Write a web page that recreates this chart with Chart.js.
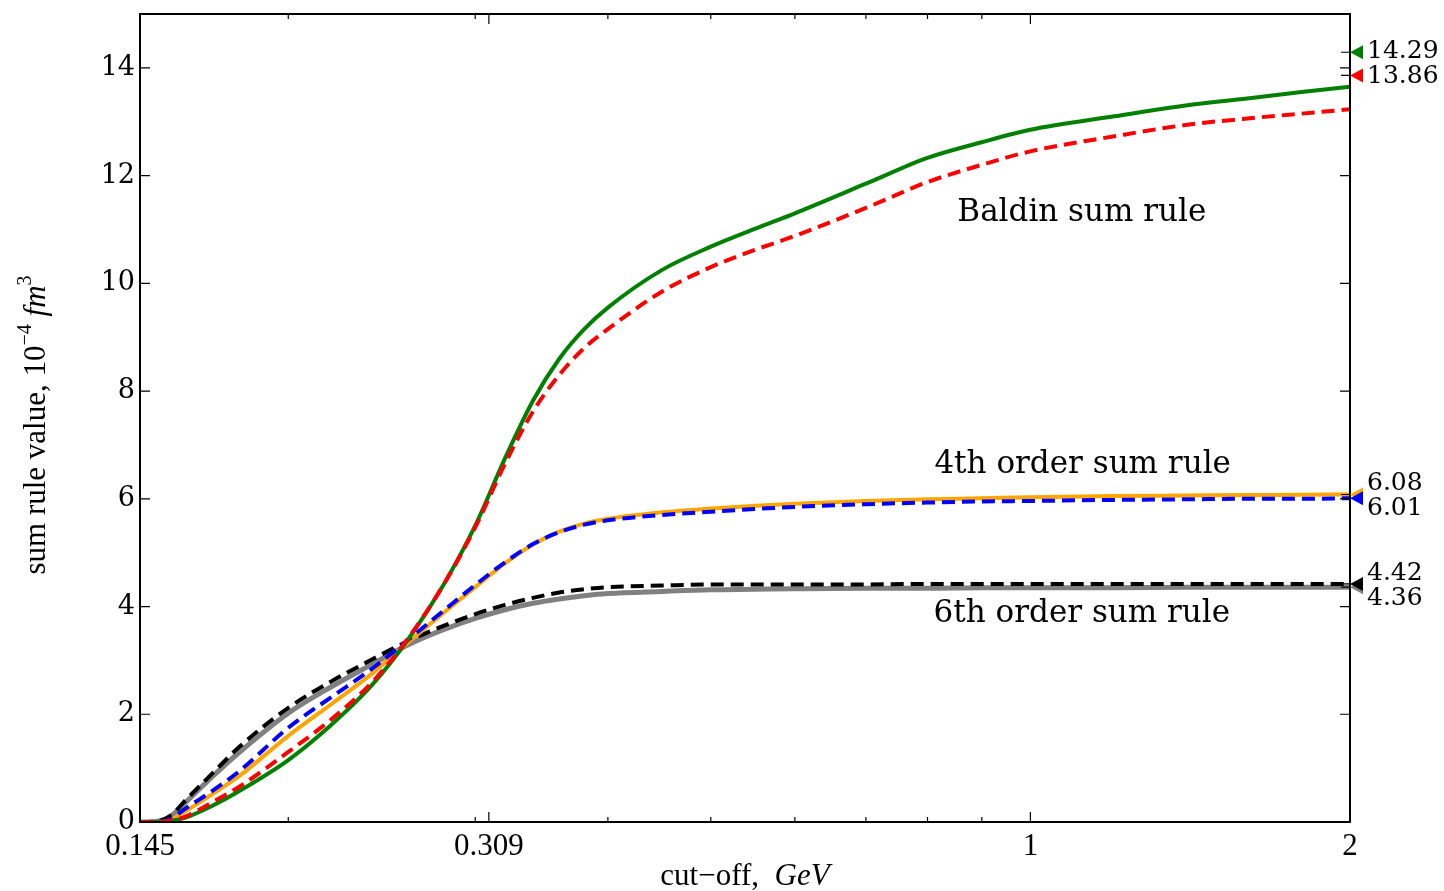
<!DOCTYPE html>
<html>
<head>
<meta charset="utf-8">
<script src="https://cdn.jsdelivr.net/npm/chart.js@4/dist/chart.umd.min.js"></script>
<style>
  html,body{margin:0;padding:0;background:#fff;}
  #wrap{width:1444px;height:891px;position:relative;}
</style>
</head>
<body>
<div id="wrap"><canvas id="c" width="1444" height="891"></canvas></div>
<script>
// cut-off energy, GeV
const cutoff = [0.145,0.15,0.155,0.16,0.17,0.18,0.2,0.22,0.24,0.26,0.28,0.3,0.32,0.34,0.36,0.38,0.4,0.45,0.5,0.55,0.6,0.7,0.8,0.9,1.0,1.2,1.4,1.6,1.8,2.0];
// Baldin sum rule (green solid / red dashed)
const baldinA = [0,0,0.02,0.08,0.31,0.58,1.15,1.82,2.55,3.42,4.4,5.5,6.75,7.82,8.6,9.15,9.55,10.25,10.68,11.01,11.3,11.85,12.33,12.62,12.85,13.1,13.3,13.43,13.55,13.65];
const baldinB = [0,0,0.03,0.1,0.38,0.66,1.3,1.92,2.6,3.44,4.4,5.47,6.65,7.62,8.3,8.8,9.15,9.85,10.3,10.62,10.88,11.4,11.88,12.2,12.45,12.73,12.94,13.06,13.15,13.23];
// 4th order sum rule (orange solid / blue dashed)
const order4A = [0,0,0.05,0.2,0.53,0.86,1.6,2.2,2.76,3.35,3.88,4.36,4.8,5.15,5.39,5.54,5.63,5.75,5.82,5.87,5.91,5.96,5.99,6.01,6.03,6.05,6.06,6.07,6.075,6.08];
const order4B = [0,0,0.06,0.25,0.59,0.95,1.75,2.33,2.85,3.4,3.92,4.4,4.82,5.16,5.38,5.52,5.6,5.7,5.76,5.81,5.85,5.9,5.93,5.95,5.96,5.98,5.99,6.0,6.0,6.01];
// 6th order sum rule (gray solid / black dashed)
const order6A = [0,0.01,0.11,0.36,0.86,1.3,2.02,2.52,2.93,3.3,3.57,3.78,3.94,4.06,4.14,4.2,4.24,4.28,4.31,4.32,4.33,4.34,4.34,4.35,4.35,4.35,4.36,4.36,4.36,4.36];
const order6B = [0,0.01,0.12,0.4,0.92,1.4,2.12,2.62,3.02,3.37,3.64,3.86,4.03,4.16,4.26,4.32,4.36,4.39,4.41,4.41,4.41,4.41,4.42,4.42,4.42,4.42,4.42,4.42,4.42,4.42];

const xTicks = [0.145,0.309,1,2];
const xMinor = [0.2,0.3,0.4,0.5,0.6,0.7,0.8,0.9];
const yTicks = [0,2,4,6,8,10,12,14];

// limiting values shown at the right edge
const limitVals   = [14.29,13.86,6.08,6.01,4.42,4.36];
const limitLabels = ['14.29','13.86','6.08','6.01','4.42','4.36'];
const limitColors = ['#008000','#ff0000','#ffa500','#0000ff','#000000','#808080'];

const notes = ['Baldin sum rule','4th order sum rule','6th order sum rule'];
const noteX = [1.118,1.12,1.118];
const noteY = [11.31,6.62,3.86];

const pts = arr => arr.map((v,i)=>({x:cutoff[i], y:v}));

function ds(data,color,width,dash){
  return {data:pts(data),borderColor:color,borderWidth:width,borderDash:dash||[],
    pointRadius:0,fill:false,cubicInterpolationMode:'monotone',borderCapStyle:'butt'};
}

const SERIF = '"DejaVu Serif", serif';
const TIMES = '"Liberation Serif", "Times New Roman", serif';

const decor = {
  id:'decor',
  afterDatasetsDraw(chart){
    const {ctx, scales:{x,y}} = chart;
    ctx.save();
    ctx.fillStyle='#000';
    ctx.font='31px '+SERIF;
    ctx.textAlign='center'; ctx.textBaseline='middle';
    notes.forEach((t,i)=>ctx.fillText(t, x.getPixelForValue(noteX[i]), y.getPixelForValue(noteY[i])));
    ctx.restore();
  },
  afterDraw(chart){
    const {ctx, chartArea:a, scales:{x,y}} = chart;
    ctx.save();
    // frame
    ctx.strokeStyle='#000'; ctx.lineWidth=2;
    ctx.strokeRect(a.left,a.top,a.right-a.left,a.bottom-a.top);
    // inward ticks
    ctx.lineWidth=1.2;
    ctx.beginPath();
    xTicks.forEach(v=>{const px=x.getPixelForValue(v);
      ctx.moveTo(px,a.bottom);ctx.lineTo(px,a.bottom-10);ctx.moveTo(px,a.top);ctx.lineTo(px,a.top+10);});
    xMinor.forEach(v=>{const px=x.getPixelForValue(v);
      ctx.moveTo(px,a.bottom);ctx.lineTo(px,a.bottom-5);ctx.moveTo(px,a.top);ctx.lineTo(px,a.top+5);});
    yTicks.forEach(v=>{const py=y.getPixelForValue(v);
      ctx.moveTo(a.left,py);ctx.lineTo(a.left+10,py);ctx.moveTo(a.right,py);ctx.lineTo(a.right-10,py);});
    limitVals.forEach(v=>{const py=y.getPixelForValue(v);
      ctx.moveTo(a.right,py);ctx.lineTo(a.right-9,py);});
    ctx.stroke();

    // triangles pointing at the limit values
    [0,1,2,3,5,4].forEach(i=>{
      const py=y.getPixelForValue(limitVals[i]);
      ctx.fillStyle=limitColors[i];
      ctx.beginPath();
      ctx.moveTo(a.right,py);ctx.lineTo(a.right+13,py-7);ctx.lineTo(a.right+13,py+7);ctx.closePath();
      ctx.fill();
    });
    // their labels, pairs spread apart
    ctx.fillStyle='#000';ctx.font='25px '+SERIF;ctx.textAlign='left';ctx.textBaseline='middle';
    for(let i=0;i<limitVals.length;i+=2){
      const mid=(y.getPixelForValue(limitVals[i])+y.getPixelForValue(limitVals[i+1]))/2;
      ctx.fillText(limitLabels[i],a.right+17,mid-12.5);
      ctx.fillText(limitLabels[i+1],a.right+17,mid+12.5);
    }

    // x title
    ctx.textBaseline='middle';
    const xt1='cut\u2212off,  ', xt2='GeV';
    ctx.font='31px '+TIMES; const w1=ctx.measureText(xt1).width;
    ctx.font='italic 31px '+TIMES; const w2=ctx.measureText(xt2).width;
    let sx=(a.left+a.right)/2-(w1+w2)/2;
    ctx.font='31px '+TIMES; ctx.fillText(xt1,sx,877);
    ctx.font='italic 31px '+TIMES; ctx.fillText(xt2,sx+w1,877);

    // y title (rotated), with superscripts
    const parts=[['sum rule value, 10','',0],['\u22124','sup',0],[' ','',0],['fm','it',0],['3','sup',0]];
    const fontOf=p=> p[1]==='sup' ? '20px '+TIMES : (p[1]==='it' ? 'italic 31px '+TIMES : '31px '+TIMES);
    let total=0; parts.forEach(p=>{ctx.font=fontOf(p);p[2]=ctx.measureText(p[0]).width;total+=p[2];});
    ctx.translate(37,425); ctx.rotate(-Math.PI/2);
    let cx=-total/2;
    parts.forEach(p=>{ctx.font=fontOf(p);ctx.fillText(p[0],cx,p[1]==='sup'?-11:0);cx+=p[2];});
    ctx.restore();
  }
};

new Chart(document.getElementById('c'),{
  type:'line',
  data:{datasets:[
    ds(baldinB,'#ff0000',4,[13,7]),
    ds(baldinA,'#008000',4),
    ds(order4B,'#0000ff',4,[13,7]),
    ds(order4A,'#ffa500',4),
    ds(order6B,'#000000',4,[13,7]),
    ds(order6A,'#808080',5)
  ]},
  options:{
    responsive:false,animation:false,
    layout:{padding:{top:14,right:94,left:0,bottom:0}},
    plugins:{legend:{display:false},tooltip:{enabled:false}},
    scales:{
      x:{type:'logarithmic',min:0.145,max:2,
        afterBuildTicks:s=>{s.ticks=xTicks.map(v=>({value:v}));},
        afterFit:s=>{s.height=69;s.paddingLeft=0;s.paddingRight=0;},
        grid:{display:false,drawTicks:false},border:{display:false},
        ticks:{autoSkip:false,maxRotation:0,padding:6,color:'#000',font:{family:'"Liberation Serif", serif',size:31},
          callback:v=>String(v)}},
      y:{type:'linear',min:0,max:15,
        afterBuildTicks:s=>{s.ticks=yTicks.map(v=>({value:v}));},
        afterFit:s=>{s.width=140;s.paddingTop=0;s.paddingBottom=0;},
        grid:{display:false,drawTicks:false},border:{display:false},
        ticks:{padding:5,color:'#000',font:{family:'"DejaVu Serif", serif',size:27}}}
    }
  },
  plugins:[decor]
});
</script>
</body>
</html>
